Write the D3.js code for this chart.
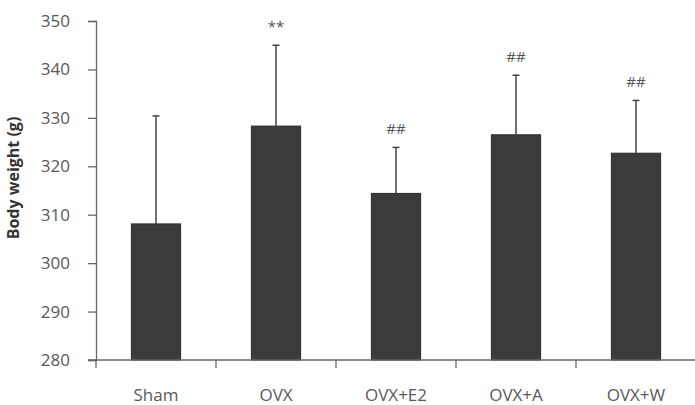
<!DOCTYPE html>
<html>
<head>
<meta charset="utf-8">
<script src="https://cdn.jsdelivr.net/npm/d3@7"></script>
<style>
  body { margin: 0; background: #fff; }
  svg text { font-family: "Open Sans", "Noto Sans", sans-serif; }
</style>
</head>
<body>
<div id="chart"></div>
<script>
// data
const groups = ["Sham", "OVX", "OVX+E2", "OVX+A", "OVX+W"];
const means = [308.1, 328.3, 314.4, 326.5, 322.7];
const errors = [22.3, 16.7, 9.5, 12.3, 10.9];
const marks = ["", "**", "##", "##", "##"];
const yTicks = [280, 290, 300, 310, 320, 330, 340, 350];

const width = 695, height = 405;
const margin = {top: 21, right: -1, bottom: 45, left: 96};

const svg = d3.select("#chart")
    .append("svg")
    .attr("width", width)
    .attr("height", height);

const x = d3.scaleBand()
    .domain(groups)
    .range([margin.left, width - margin.right])
    .paddingInner(0.59)
    .paddingOuter(0.295);

const y = d3.scaleLinear()
    .domain([280, 350])
    .range([height - margin.bottom, margin.top]);

// bars
svg.selectAll("rect.bar")
    .data(groups)
    .enter()
    .append("rect")
    .attr("class", "bar")
    .attr("x", d => x(d))
    .attr("width", x.bandwidth())
    .attr("y", (d, i) => y(means[i]))
    .attr("height", (d, i) => y(280) - y(means[i]))
    .attr("fill", "#3b3b3b")
    .attr("stroke", "#2a2a2a")
    .attr("stroke-width", 1);

// error bars (upper only)
const err = svg.selectAll("g.err")
    .data(groups)
    .enter()
    .append("g")
    .attr("class", "err")
    .attr("transform", d => "translate(" + (x(d) + x.bandwidth() / 2) + ",0)");

err.append("line")
    .attr("y1", (d, i) => y(means[i]))
    .attr("y2", (d, i) => y(means[i] + errors[i]))
    .attr("stroke", "#444")
    .attr("stroke-width", 1.5);

err.append("line")
    .attr("x1", -3.5).attr("x2", 3.5)
    .attr("y1", (d, i) => y(means[i] + errors[i]))
    .attr("y2", (d, i) => y(means[i] + errors[i]))
    .attr("stroke", "#444")
    .attr("stroke-width", 1.5);

err.append("text")
    .attr("y", (d, i) => y(means[i] + errors[i]) - 17)
    .attr("text-anchor", "middle")
    .attr("dominant-baseline", "middle")
    .attr("font-size", 15)
    .attr("fill", "#555")
    .text((d, i) => marks[i]);

// left axis
const axisLeft = d3.axisLeft(y)
    .tickValues(yTicks)
    .tickSize(8)
    .tickPadding(18);
const gy = svg.append("g")
    .attr("transform", "translate(" + margin.left + ",0)")
    .call(axisLeft);

// bottom axis, ticks at the category boundaries
const edges = groups.map(g => x(g) - x.step() * x.paddingInner() / 2);
edges.push(width - margin.right);
const gx = svg.append("g")
    .attr("transform", "translate(0," + y(280) + ")");
gx.append("line")
    .attr("x1", margin.left - 8).attr("x2", width)
    .attr("stroke", "#666").attr("stroke-width", 1.3);
gx.selectAll("line.tick")
    .data(edges)
    .enter()
    .append("line")
    .attr("class", "tick")
    .attr("x1", d => d).attr("x2", d => d)
    .attr("y1", 0).attr("y2", 8)
    .attr("stroke", "#666").attr("stroke-width", 1.3);
gx.selectAll("text")
    .data(groups)
    .enter()
    .append("text")
    .attr("x", d => x(d) + x.bandwidth() / 2)
    .attr("y", 41)
    .attr("text-anchor", "middle")
    .attr("font-size", 17)
    .attr("fill", "#595959")
    .text(d => d);

gy.select(".domain").attr("stroke", "#666").attr("stroke-width", 1.3);
gy.selectAll(".tick line").attr("stroke", "#666").attr("stroke-width", 1.3);
gy.selectAll(".tick text")
    .attr("font-size", 17)
    .attr("fill", "#595959")
    .attr("font-family", "'Open Sans', sans-serif");

// y axis title
svg.append("text")
    .attr("transform", "translate(19,178) rotate(-90)")
    .attr("text-anchor", "middle")
    .attr("font-size", 16)
    .attr("font-weight", "bold")
    .attr("fill", "#333")
    .text("Body weight (g)");
</script>
</body>
</html>
